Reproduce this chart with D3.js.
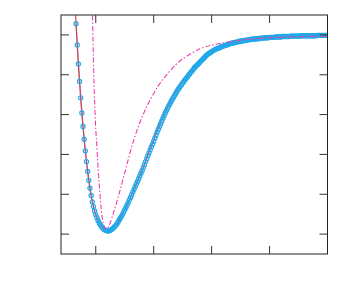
<!DOCTYPE html>
<html>
<head>
<meta charset="utf-8">
<script src="https://cdn.jsdelivr.net/npm/d3@7"></script>
<style>
  html, body { margin: 0; padding: 0; background: #fff; }
  svg { display: block; }
</style>
</head>
<body>
<div id="chart"></div>
<script>
// Sampled curve (cyan circles): regular grid from 0.66 in steps of 0.02.
const sampleStart = 0.66;
const sampleStep = 0.02;
const sampleE = [
  0.28, -0.25, -0.73, -1.17, -1.58, -1.96, -2.30, -2.62, -2.91, -3.18,
  -3.43, -3.65, -3.85, -4.03, -4.19, -4.31, -4.42, -4.51, -4.59, -4.66,
  -4.72, -4.77, -4.81, -4.85, -4.88, -4.90, -4.91, -4.92, -4.92, -4.91,
  -4.90, -4.88, -4.85, -4.82, -4.79, -4.75, -4.71, -4.66, -4.61, -4.56,
  -4.51, -4.45, -4.39, -4.33, -4.27, -4.21, -4.14, -4.08, -4.01, -3.94,
  -3.88, -3.81, -3.74, -3.68, -3.61, -3.54, -3.47, -3.41, -3.33, -3.26,
  -3.18, -3.11, -3.03, -2.96, -2.88, -2.81, -2.74, -2.67, -2.59, -2.52,
  -2.44, -2.37, -2.30, -2.23, -2.16, -2.09, -2.03, -1.96, -1.90, -1.84,
  -1.78, -1.73, -1.67, -1.62, -1.57, -1.52, -1.47, -1.42, -1.37, -1.33,
  -1.29, -1.25, -1.21, -1.17, -1.13, -1.09, -1.06, -1.02, -0.98, -0.94,
  -0.91, -0.87, -0.83, -0.80, -0.77, -0.74, -0.71, -0.68, -0.65, -0.62,
  -0.59, -0.56, -0.53, -0.50, -0.48, -0.46, -0.44, -0.42, -0.40, -0.38,
  -0.37, -0.35, -0.34, -0.33, -0.32, -0.30, -0.29, -0.28, -0.27, -0.26,
  -0.25, -0.24, -0.23, -0.22, -0.21, -0.20, -0.20, -0.19, -0.18, -0.18,
  -0.17, -0.16, -0.16, -0.15, -0.15, -0.14, -0.14, -0.13, -0.13, -0.12,
  -0.12, -0.11, -0.11, -0.11, -0.10, -0.10, -0.10, -0.09, -0.09, -0.09,
  -0.08, -0.08, -0.08, -0.07, -0.07, -0.07, -0.07, -0.06, -0.06, -0.06,
  -0.06, -0.06, -0.05, -0.05, -0.05, -0.05, -0.05, -0.05, -0.04, -0.04,
  -0.04, -0.04, -0.04, -0.04, -0.04, -0.03, -0.03, -0.03, -0.03, -0.03,
  -0.03, -0.03, -0.03, -0.03, -0.02, -0.02, -0.02, -0.02, -0.02, -0.02,
  -0.02, -0.02, -0.02, -0.02, -0.02, -0.02, -0.02, -0.02, -0.01, -0.01,
  -0.01, -0.01, -0.01, -0.01, -0.01, -0.01, -0.01, -0.01
];

// Fitted curve (red solid)
const fitX = [0.62, 0.66, 0.70, 0.75, 0.80, 0.85, 0.90, 0.95, 1.00, 1.05,
  1.10, 1.15, 1.21, 1.30, 1.40, 1.50, 1.60, 1.70, 1.80, 1.90,
  2.00, 2.10, 2.20, 2.30, 2.40, 2.50, 2.60, 2.80, 3.00, 3.20,
  3.50, 4.00, 4.50, 5.00];
const fitE = [1.45, 0.28, -0.73, -1.77, -2.62, -3.31, -3.85, -4.25, -4.51, -4.69,
  -4.81, -4.89, -4.92, -4.85, -4.66, -4.39, -4.08, -3.74, -3.40, -3.01,
  -2.62, -2.24, -1.90, -1.61, -1.37, -1.17, -0.99, -0.67, -0.42, -0.28,
  -0.16, -0.06, -0.03, -0.01];

// Second model (magenta dash-dot)
const modelX = [0.940, 0.952, 0.966, 0.982, 1.001, 1.018, 1.042, 1.070, 1.103, 1.134,
  1.165, 1.203, 1.246, 1.315, 1.389, 1.462, 1.534, 1.648, 1.746, 1.850,
  1.962, 2.079, 2.247, 2.425, 2.609, 2.799, 3.144, 3.489, 3.834, 4.352, 5.0];
const modelE = [0.75, -0.13, -1.01, -1.76, -2.39, -2.76, -3.39, -3.95, -4.50, -4.75,
  -4.87, -4.85, -4.73, -4.42, -4.06, -3.67, -3.27, -2.68, -2.26, -1.89,
  -1.57, -1.28, -0.96, -0.69, -0.50, -0.35, -0.215, -0.133, -0.085, -0.052, -0.03];

const xTicks = [1, 2, 3, 4];
const yTicks = [-5, -4, -3, -2, -1, 0];

const W = 349, H = 300;
const m = { left: 61, right: 327.5, top: 15, bottom: 254 };
const tickLen = 8;

const x = d3.scaleLinear().domain([0.4, 5]).range([m.left, m.right]);
const y = d3.scaleLinear().domain([-5.5, 0.5]).range([m.bottom, m.top]);

const samples = sampleE.map((e, i) => ({ r: sampleStart + sampleStep * i, e }));
const fit = fitX.map((r, i) => ({ r, e: fitE[i] }));
const model = modelX.map((r, i) => ({ r, e: modelE[i] }));

const svg = d3.select("#chart").append("svg")
  .attr("width", W)
  .attr("height", H)
  .attr("viewBox", `0 0 ${W} ${H}`);

svg.append("rect").attr("width", W).attr("height", H).attr("fill", "#fff");

svg.append("clipPath").attr("id", "plot-clip")
  .append("rect")
  .attr("x", m.left).attr("y", m.top)
  .attr("width", m.right - m.left).attr("height", m.bottom - m.top);

const plot = svg.append("g").attr("clip-path", "url(#plot-clip)");

const line = d3.line()
  .x((d) => x(d.r))
  .y((d) => y(d.e))
  .curve(d3.curveMonotoneX);

plot.append("path")
  .datum(fit)
  .attr("d", line)
  .attr("fill", "none")
  .attr("stroke", "#ee5a5a")
  .attr("stroke-width", 1.4);

plot.append("path")
  .datum(samples)
  .attr("d", line)
  .attr("fill", "none")
  .attr("stroke", "#6a3a8e")
  .attr("stroke-width", 0.5);

plot.append("g")
  .selectAll("circle")
  .data(samples)
  .join("circle")
  .attr("cx", (d) => x(d.r))
  .attr("cy", (d) => y(d.e))
  .attr("r", 2.1)
  .attr("fill", "none")
  .attr("stroke", "#1fa9ea")
  .attr("stroke-width", 1.15);

plot.append("path")
  .datum(model)
  .attr("d", line)
  .attr("fill", "none")
  .attr("stroke", "#f03ca8")
  .attr("stroke-width", 1.1)
  .attr("stroke-dasharray", "5,2,1.5,2");

// ticks on all four sides, pointing inward, no labels
const axisColor = "#333";
function drawAxis(axis, transform) {
  const g = svg.append("g").attr("transform", transform).call(axis);
  g.select(".domain").remove();
  g.selectAll(".tick line").attr("stroke", axisColor);
}
drawAxis(d3.axisBottom(x).tickValues(xTicks).tickSize(-tickLen).tickFormat("").offset(0),
  `translate(0,${m.bottom})`);
drawAxis(d3.axisTop(x).tickValues(xTicks).tickSize(-tickLen).tickFormat("").offset(0),
  `translate(0,${m.top})`);
drawAxis(d3.axisLeft(y).tickValues(yTicks).tickSize(-tickLen).tickFormat("").offset(0),
  `translate(${m.left},0)`);
drawAxis(d3.axisRight(y).tickValues(yTicks).tickSize(-tickLen).tickFormat("").offset(0),
  `translate(${m.right},0)`);

svg.append("rect")
  .attr("x", m.left).attr("y", m.top)
  .attr("width", m.right - m.left).attr("height", m.bottom - m.top)
  .attr("fill", "none")
  .attr("stroke", "#222")
  .attr("stroke-width", 1);
</script>
</body>
</html>
